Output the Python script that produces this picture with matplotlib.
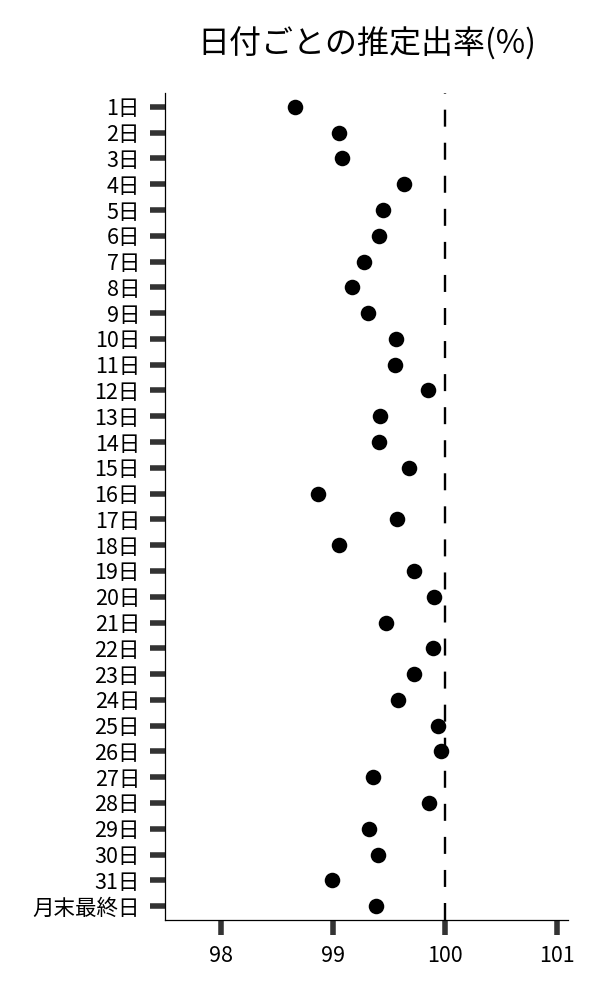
import matplotlib
matplotlib.use("Agg")
import matplotlib.pyplot as plt

plt.rcParams['font.family'] = ['Noto Sans CJK JP', 'DejaVu Sans']

labels = [f"{i}日" for i in range(1, 32)] + ["月末最終日"]
values = [98.66, 99.05, 99.08, 99.63, 99.45, 99.41, 99.28, 99.17, 99.31, 99.56,
          99.55, 99.85, 99.42, 99.41, 99.68, 98.87, 99.57, 99.05, 99.72, 99.90,
          99.47, 99.89, 99.72, 99.58, 99.94, 99.96, 99.36, 99.86, 99.32, 99.40,
          98.99, 99.38]
ref_value = 100
xticks = [98, 99, 100, 101]
title = "日付ごとの推定出率(%)"

fig = plt.figure(figsize=(6, 10), dpi=100)
ax = fig.add_axes([0.275, 0.08, 0.672, 0.827])

ypos = list(range(len(labels)))
ax.scatter(values, ypos, s=125, color='black', zorder=3, linewidths=0)
ax.axvline(ref_value, color='black', lw=1.7, linestyle=(0, (7.2, 6.8)), zorder=2)

ax.set_yticks(ypos)
ax.set_yticklabels(labels, fontsize=15.5)
ax.set_xticks(xticks)
ax.set_xticklabels([str(t) for t in xticks], fontsize=15.5)
ax.set_xlim(97.5, 101.1)
ax.set_ylim(len(labels) - 1 + 0.54, -0.54)

for s in ['top', 'right']:
    ax.spines[s].set_visible(False)
for s in ['left', 'bottom']:
    ax.spines[s].set_linewidth(0.9)
    ax.spines[s].set_color('black')

ax.tick_params(axis='both', length=11, width=4, color='#333333', pad=7, direction='out')

ax.set_title(title, fontsize=23, pad=28)

fig.savefig("out.png", dpi=100)
